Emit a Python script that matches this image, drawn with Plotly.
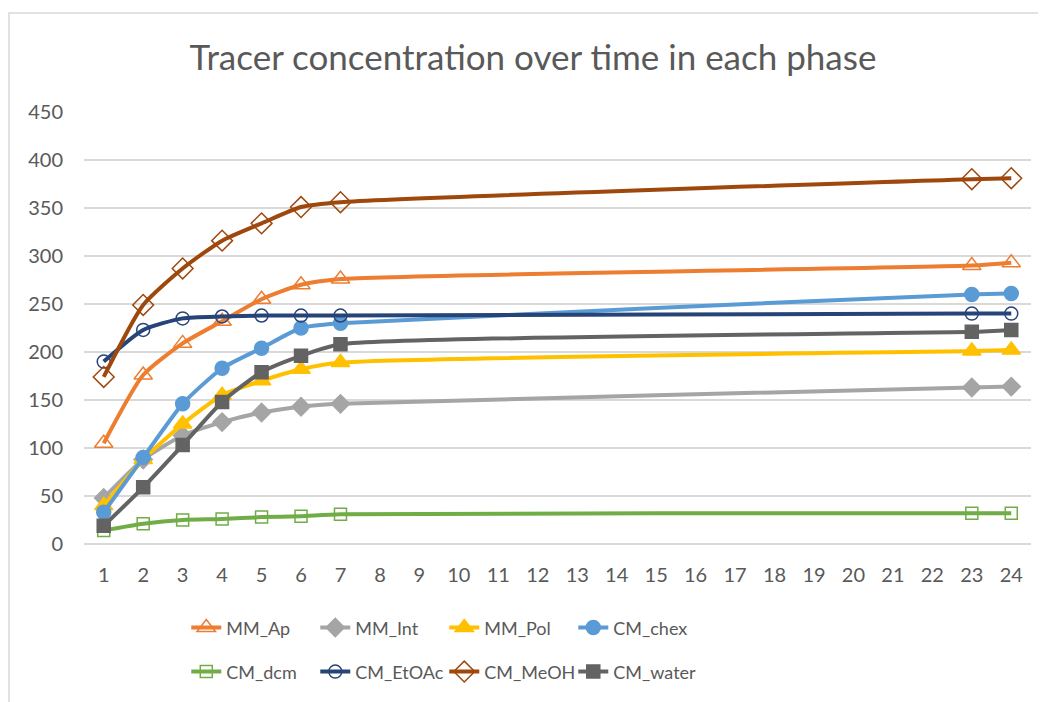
import plotly.graph_objects as go

x_hours = [1, 2, 3, 4, 5, 6, 7, 23, 24]
x_ticks = list(range(1, 25))

mm_ap = [105, 176, 209, 232, 255, 270, 276, 290, 293]
mm_int = [48, 88, 113, 127, 137, 143, 146, 163, 164]
mm_pol = [40, 88, 125, 155, 170, 182, 189, 201, 202]
cm_chex = [33, 90, 146, 183, 204, 225, 230, 260, 261]
cm_dcm = [14, 21, 25, 26, 28, 29, 31, 32, 32]
cm_etoac = [190, 223, 235, 237, 238, 238, 238, 240, 240]
cm_meoh = [174, 249, 287, 316, 334, 351, 356, 380, 381]
cm_water = [19, 59, 103, 148, 179, 196, 208, 221, 223]

series = [
    ("MM_Ap", mm_ap, "#ED7D31", "triangle-up-open", 16, "legend"),
    ("MM_Int", mm_int, "#A5A5A5", "diamond", 14, "legend"),
    ("MM_Pol", mm_pol, "#FFC000", "triangle-up", 16, "legend"),
    ("CM_chex", cm_chex, "#5B9BD5", "circle", 14, "legend"),
    ("CM_dcm", cm_dcm, "#70AD47", "square-open", 12, "legend2"),
    ("CM_EtOAc", cm_etoac, "#264478", "circle-open", 13, "legend2"),
    ("CM_MeOH", cm_meoh, "#9E480E", "diamond-open", 16, "legend2"),
    ("CM_water", cm_water, "#636363", "square", 13, "legend2"),
]

FONT = "Lato"
TXT = "#595959"

# the page body adds an 8 px offset; plot area wanted at x 84..1031, y 112..544
L, T, PW, PH = 76, 104, 947, 432

fig = go.Figure()
for name, vals, color, sym, size, leg in series:
    fig.add_trace(go.Scatter(
        x=x_hours, y=vals, name=name, mode="lines+markers",
        line=dict(color=color, width=4, shape="spline", smoothing=0.6),
        marker=dict(symbol=sym, size=size, color=color,
                    line=dict(color=color, width=1.5)),
        legend=leg,
    ))

legend_common = dict(
    orientation="h", xanchor="left", yanchor="middle",
    font=dict(family=FONT, size=18, color=TXT),
    entrywidth=84, entrywidthmode="pixels",
    bgcolor="rgba(0,0,0,0)", itemclick=False,
)

fig.update_layout(
    width=1046, height=702,
    paper_bgcolor="white", plot_bgcolor="white",
    margin=dict(l=L, r=1046 - L - PW, t=T, b=702 - T - PH),
    title=dict(text="Tracer concentration over time in each phase",
               x=525 / 1046, xanchor="center", y=1 - 50 / 702, yanchor="middle",
               xref="container", yref="container",
               font=dict(family=FONT, size=35, color=TXT)),
    font=dict(family=FONT, color=TXT),
    showlegend=True,
    legend=dict(x=0.108, y=-0.194, **legend_common),
    legend2=dict(x=0.108, y=-0.296, **legend_common),
    xaxis=dict(
        range=[0.5, 24.5], tickmode="array", tickvals=x_ticks,
        ticktext=[str(v) for v in x_ticks],
        showgrid=False, zeroline=False, showline=False,
        ticks="", tickfont=dict(family=FONT, size=20, color=TXT),
        ticklabelstandoff=17,
    ),
    yaxis=dict(
        range=[0, 450], tickmode="array", tickvals=list(range(0, 451, 50)),
        showgrid=True, gridcolor="#D9D9D9", gridwidth=1.5,
        zeroline=True, zerolinecolor="#D9D9D9", zerolinewidth=1.5,
        showline=False, ticks="",
        tickfont=dict(family=FONT, size=20, color=TXT),
        ticklabelstandoff=20,
    ),
    shapes=[dict(type="rect", xref="paper", yref="paper",
                 x0=(9 - 84) / PW, x1=1.06, y0=-0.5, y1=(544 - 13) / PH,
                 line=dict(color="#D9D9D9", width=1.5), fillcolor="rgba(0,0,0,0)",
                 layer="below")],
)

fig.write_html("out.html")
